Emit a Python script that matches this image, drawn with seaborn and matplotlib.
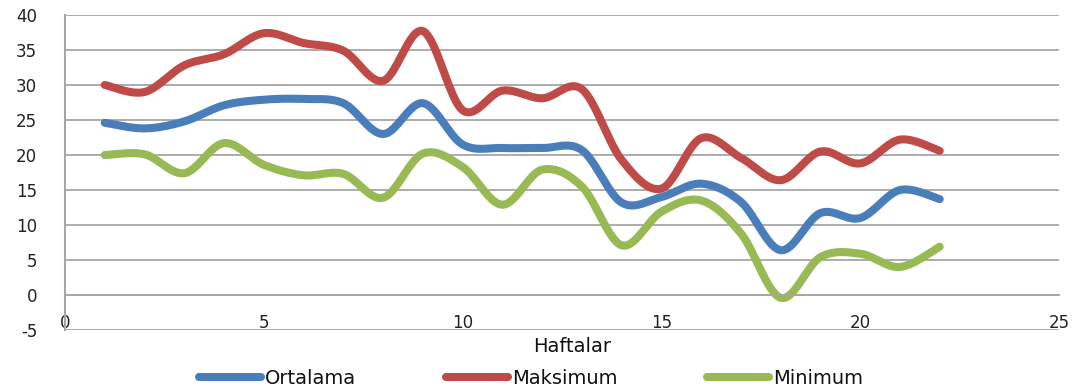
import numpy as np
import pandas as pd
import matplotlib
matplotlib.use("Agg")
import matplotlib.pyplot as plt
from matplotlib.ticker import MultipleLocator
import seaborn as sns

# Weekly temperature summary
weeks = list(range(1, 23))
ortalama = [24.6, 23.8, 24.8, 27.1, 27.9, 28.0, 27.4, 23.0, 27.4, 21.5, 21.0,
            21.0, 20.7, 13.2, 14.0, 15.9, 13.3, 6.4, 11.7, 11.0, 15.0, 13.7]
maksimum = [30.0, 29.0, 32.8, 34.4, 37.4, 36.0, 34.9, 30.6, 37.7, 26.4, 29.2,
            28.1, 29.4, 19.3, 15.2, 22.4, 19.6, 16.4, 20.5, 18.8, 22.2, 20.6]
minimum = [20.0, 20.1, 17.4, 21.7, 18.6, 17.1, 17.3, 13.9, 20.2, 18.3, 12.9,
           17.9, 15.5, 7.1, 11.9, 13.5, 8.8, -0.4, 5.4, 5.9, 4.0, 6.9]

series_names = ["Ortalama", "Maksimum", "Minimum"]
series_values = [ortalama, maksimum, minimum]
colors = ["#4A7EBB", "#BE4B48", "#98B954"]

x_ticks = [0, 5, 10, 15, 20, 25]
y_ticks = [-5, 0, 5, 10, 15, 20, 25, 30, 35, 40]


def smooth_curve(x, y, steps=40):
    """Cubic Bezier smoothing (Catmull-Rom control points) through every value."""
    x = np.asarray(x, float)
    y = np.asarray(y, float)
    px = np.concatenate([[x[0]], x, [x[-1]]])
    py = np.concatenate([[y[0]], y, [y[-1]]])
    xs, ys = [], []
    for i in range(1, len(px) - 2):
        p0 = np.array([px[i], py[i]])
        p3 = np.array([px[i + 1], py[i + 1]])
        c1 = p0 + (np.array([px[i + 1], py[i + 1]]) - np.array([px[i - 1], py[i - 1]])) / 6
        c2 = p3 - (np.array([px[i + 2], py[i + 2]]) - np.array([px[i], py[i]])) / 6
        t = np.linspace(0, 1, steps, endpoint=(i == len(px) - 3))[:, None]
        pts = ((1 - t) ** 3) * p0 + 3 * ((1 - t) ** 2) * t * c1 + 3 * (1 - t) * t ** 2 * c2 + t ** 3 * p3
        xs.append(pts[:, 0])
        ys.append(pts[:, 1])
    return np.concatenate(xs), np.concatenate(ys)


frames = []
for name, vals in zip(series_names, series_values):
    sx, sy = smooth_curve(weeks, vals)
    frames.append(pd.DataFrame({"Hafta": sx, "Değer": sy, "Seri": name}))
df = pd.concat(frames, ignore_index=True)

sns.set_theme(style="white")
plt.rcParams["font.family"] = ["DejaVu Sans"]

fig = plt.figure(figsize=(10.78, 3.89), dpi=100)
ax = fig.add_axes([65 / 1078, 1 - 330 / 389, (1059 - 65) / 1078, (330 - 15) / 389])

sns.lineplot(data=df, x="Hafta", y="Değer", hue="Seri", hue_order=series_names,
             palette=colors, estimator=None, sort=False, linewidth=5.8,
             solid_capstyle="round", ax=ax, legend=True)

ax.set_xlim(0, 25)
ax.set_ylim(-5, 40)
ax.set_xticks(x_ticks)
ax.xaxis.set_minor_locator(MultipleLocator(1))
ax.set_yticks(y_ticks)
ax.set_xlabel("")
ax.set_ylabel("")

grid_color = "#A6A6A6"
ax.yaxis.grid(True, color=grid_color, linewidth=1.3)
ax.set_axisbelow(True)

for side in ["top", "right"]:
    ax.spines[side].set_visible(False)
ax.spines["left"].set_color(grid_color)
ax.spines["left"].set_linewidth(1.5)
ax.spines["bottom"].set_position(("data", 0))
ax.spines["bottom"].set_color(grid_color)
ax.spines["bottom"].set_linewidth(1.3)

ax.tick_params(axis="x", which="both", direction="out", length=4, width=1.1,
               color=grid_color, pad=10, labelsize=12, labelcolor="#222222")
ax.tick_params(axis="y", length=0, pad=20, labelsize=12, labelcolor="#222222")
ax.set_yticklabels([str(v) for v in y_ticks])

fig.text(572 / 1078, 1 - 347 / 389, "Haftalar", ha="center", va="center",
         fontsize=14, color="#111111")

handles, labels = ax.get_legend_handles_labels()
ax.get_legend().remove()
for h in handles:
    h.set_linewidth(5.8)
    h.set_solid_capstyle("round")
fig.legend(handles, labels, loc="center", bbox_to_anchor=(531 / 1078, 1 - 378.5 / 389),
           ncol=3, frameon=False, fontsize=14, handlelength=3.2, handletextpad=0.2,
           columnspacing=4.6, borderaxespad=0, labelcolor="#111111")

fig.savefig("out.png", dpi=100)
